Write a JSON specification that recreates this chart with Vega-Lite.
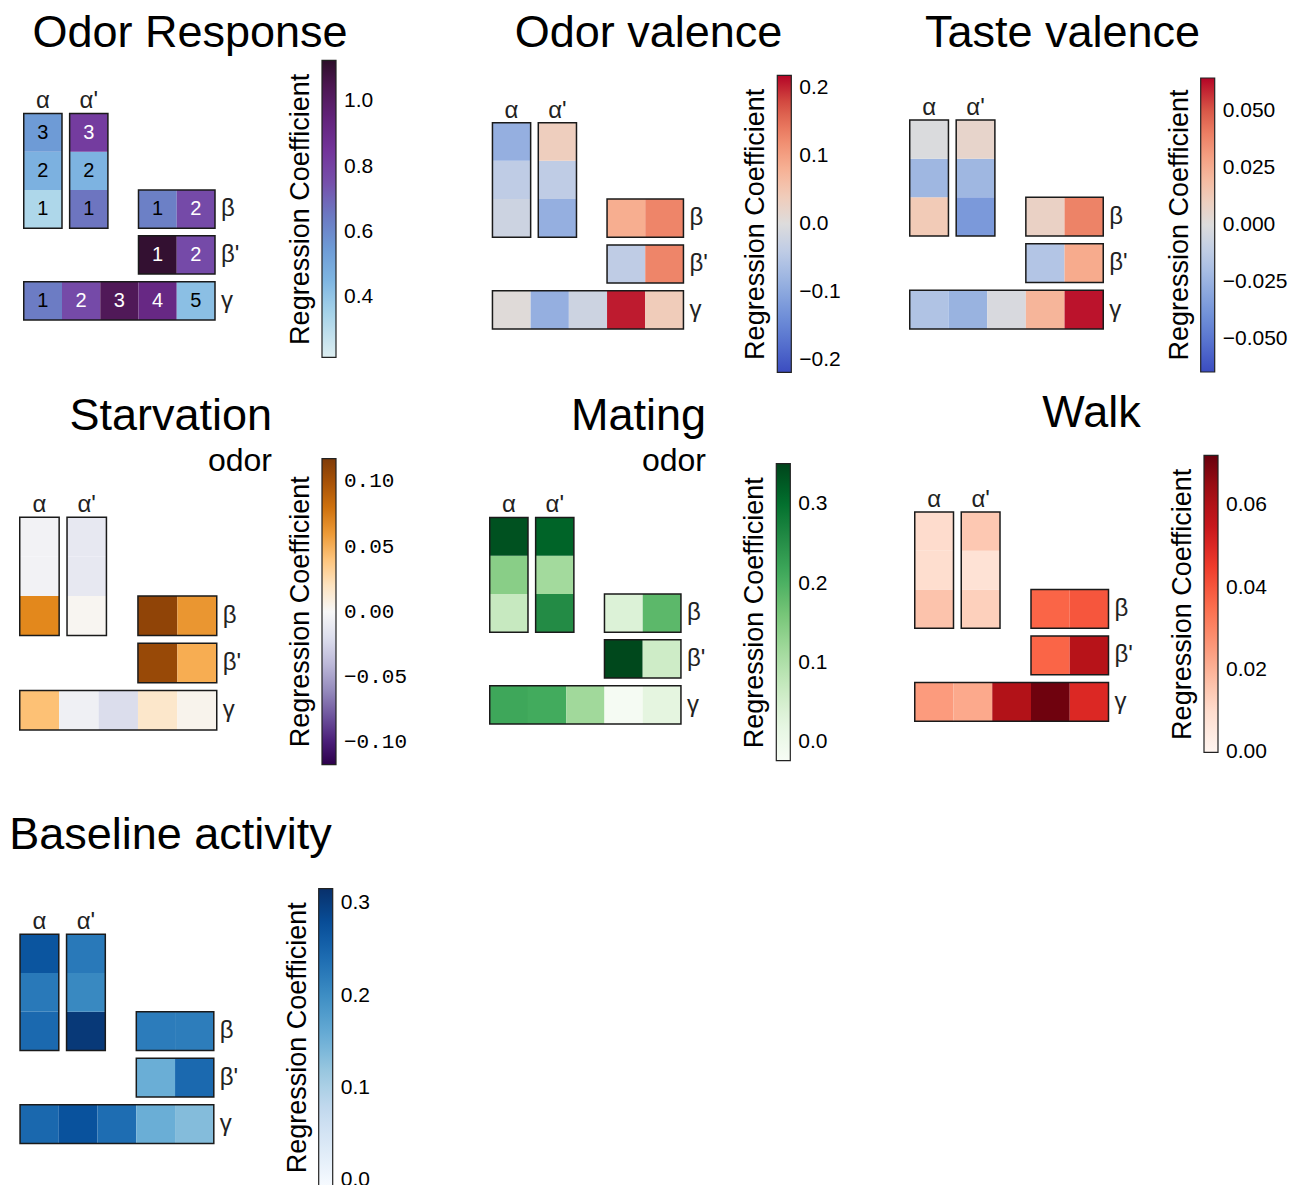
{
"$schema": "https://vega.github.io/schema/vega-lite/v6.json",
"background": "white",
"padding": {"left": 5, "top": 10, "right": 0, "bottom": 0},
"datasets": {
"layout": [
{"cell":"α1","n":1,"x0":0,"x1":1,"y0":2.4,"y1":3.4,"xc":0.5,"yc":2.9},
{"cell":"α2","n":2,"x0":0,"x1":1,"y0":3.4,"y1":4.4,"xc":0.5,"yc":3.9},
{"cell":"α3","n":3,"x0":0,"x1":1,"y0":4.4,"y1":5.4,"xc":0.5,"yc":4.9},
{"cell":"α'1","n":1,"x0":1.2,"x1":2.2,"y0":2.4,"y1":3.4,"xc":1.7,"yc":2.9},
{"cell":"α'2","n":2,"x0":1.2,"x1":2.2,"y0":3.4,"y1":4.4,"xc":1.7,"yc":3.9},
{"cell":"α'3","n":3,"x0":1.2,"x1":2.2,"y0":4.4,"y1":5.4,"xc":1.7,"yc":4.9},
{"cell":"β1","n":1,"x0":3,"x1":4,"y0":2.4,"y1":3.4,"xc":3.5,"yc":2.9},
{"cell":"β2","n":2,"x0":4,"x1":5,"y0":2.4,"y1":3.4,"xc":4.5,"yc":2.9},
{"cell":"β'1","n":1,"x0":3,"x1":4,"y0":1.2,"y1":2.2,"xc":3.5,"yc":1.7},
{"cell":"β'2","n":2,"x0":4,"x1":5,"y0":1.2,"y1":2.2,"xc":4.5,"yc":1.7},
{"cell":"γ1","n":1,"x0":0,"x1":1,"y0":0,"y1":1,"xc":0.5,"yc":0.5},
{"cell":"γ2","n":2,"x0":1,"x1":2,"y0":0,"y1":1,"xc":1.5,"yc":0.5},
{"cell":"γ3","n":3,"x0":2,"x1":3,"y0":0,"y1":1,"xc":2.5,"yc":0.5},
{"cell":"γ4","n":4,"x0":3,"x1":4,"y0":0,"y1":1,"xc":3.5,"yc":0.5},
{"cell":"γ5","n":5,"x0":4,"x1":5,"y0":0,"y1":1,"xc":4.5,"yc":0.5}
],
"lobes": [
{"lobe":"α","side":"top","x0":0,"x1":1,"y0":2.4,"y1":5.4,"xc":0.5,"yc":3.9},
{"lobe":"α'","side":"top","x0":1.2,"x1":2.2,"y0":2.4,"y1":5.4,"xc":1.7,"yc":3.9},
{"lobe":"β","side":"right","x0":3,"x1":5,"y0":2.4,"y1":3.4,"xc":4,"yc":2.9},
{"lobe":"β'","side":"right","x0":3,"x1":5,"y0":1.2,"y1":2.2,"xc":4,"yc":1.7},
{"lobe":"γ","side":"right","x0":0,"x1":5,"y0":0,"y1":1,"xc":2.5,"yc":0.5}
],
"vals": [
{"panel":"Odor Response","cell":"α1","v":0.33},{"panel":"Odor Response","cell":"α2","v":0.47},{"panel":"Odor Response","cell":"α3","v":0.55},
{"panel":"Odor Response","cell":"α'1","v":0.66},{"panel":"Odor Response","cell":"α'2","v":0.46},{"panel":"Odor Response","cell":"α'3","v":0.82},
{"panel":"Odor Response","cell":"β1","v":0.63},{"panel":"Odor Response","cell":"β2","v":0.77},
{"panel":"Odor Response","cell":"β'1","v":1.11},{"panel":"Odor Response","cell":"β'2","v":0.77},
{"panel":"Odor Response","cell":"γ1","v":0.64},{"panel":"Odor Response","cell":"γ2","v":0.77},{"panel":"Odor Response","cell":"γ3","v":1.03},{"panel":"Odor Response","cell":"γ4","v":0.92},{"panel":"Odor Response","cell":"γ5","v":0.42},

{"panel":"Odor valence","cell":"α1","v":-0.022},{"panel":"Odor valence","cell":"α2","v":-0.04},{"panel":"Odor valence","cell":"α3","v":-0.09},
{"panel":"Odor valence","cell":"α'1","v":-0.09},{"panel":"Odor valence","cell":"α'2","v":-0.04},{"panel":"Odor valence","cell":"α'3","v":0.035},
{"panel":"Odor valence","cell":"β1","v":0.085},{"panel":"Odor valence","cell":"β2","v":0.13},
{"panel":"Odor valence","cell":"β'1","v":-0.04},{"panel":"Odor valence","cell":"β'2","v":0.13},
{"panel":"Odor valence","cell":"γ1","v":0.005},{"panel":"Odor valence","cell":"γ2","v":-0.09},{"panel":"Odor valence","cell":"γ3","v":-0.022},{"panel":"Odor valence","cell":"γ4","v":0.205},{"panel":"Odor valence","cell":"γ5","v":0.04},

{"panel":"Taste valence","cell":"α1","v":0.013},{"panel":"Taste valence","cell":"α2","v":-0.023},{"panel":"Taste valence","cell":"α3","v":-0.001},
{"panel":"Taste valence","cell":"α'1","v":-0.036},{"panel":"Taste valence","cell":"α'2","v":-0.023},{"panel":"Taste valence","cell":"α'3","v":0.006},
{"panel":"Taste valence","cell":"β1","v":0.008},{"panel":"Taste valence","cell":"β2","v":0.039},
{"panel":"Taste valence","cell":"β'1","v":-0.016},{"panel":"Taste valence","cell":"β'2","v":0.026},
{"panel":"Taste valence","cell":"γ1","v":-0.017},{"panel":"Taste valence","cell":"γ2","v":-0.025},{"panel":"Taste valence","cell":"γ3","v":-0.002},{"panel":"Taste valence","cell":"γ4","v":0.022},{"panel":"Taste valence","cell":"γ5","v":0.062},

{"panel":"Starvation","cell":"α1","v":0.068},{"panel":"Starvation","cell":"α2","v":-0.004},{"panel":"Starvation","cell":"α3","v":-0.004},
{"panel":"Starvation","cell":"α'1","v":0.002},{"panel":"Starvation","cell":"α'2","v":-0.012},{"panel":"Starvation","cell":"α'3","v":-0.012},
{"panel":"Starvation","cell":"β1","v":0.11},{"panel":"Starvation","cell":"β2","v":0.062},
{"panel":"Starvation","cell":"β'1","v":0.106},{"panel":"Starvation","cell":"β'2","v":0.052},
{"panel":"Starvation","cell":"γ1","v":0.042},{"panel":"Starvation","cell":"γ2","v":-0.006},{"panel":"Starvation","cell":"γ3","v":-0.021},{"panel":"Starvation","cell":"γ4","v":0.016},{"panel":"Starvation","cell":"γ5","v":0.004},

{"panel":"Mating","cell":"α1","v":0.071},{"panel":"Mating","cell":"α2","v":0.142},{"panel":"Mating","cell":"α3","v":0.336},
{"panel":"Mating","cell":"α'1","v":0.258},{"panel":"Mating","cell":"α'2","v":0.115},{"panel":"Mating","cell":"α'3","v":0.314},
{"panel":"Mating","cell":"β1","v":0.037},{"panel":"Mating","cell":"β2","v":0.186},
{"panel":"Mating","cell":"β'1","v":0.347},{"panel":"Mating","cell":"β'2","v":0.06},
{"panel":"Mating","cell":"γ1","v":0.216},{"panel":"Mating","cell":"γ2","v":0.21},{"panel":"Mating","cell":"γ3","v":0.117},{"panel":"Mating","cell":"γ4","v":-0.019},{"panel":"Mating","cell":"γ5","v":0.024},

{"panel":"Walk","cell":"α1","v":0.016},{"panel":"Walk","cell":"α2","v":0.0095},{"panel":"Walk","cell":"α3","v":0.010},
{"panel":"Walk","cell":"α'1","v":0.013},{"panel":"Walk","cell":"α'2","v":0.008},{"panel":"Walk","cell":"α'3","v":0.015},
{"panel":"Walk","cell":"β1","v":0.037},{"panel":"Walk","cell":"β2","v":0.040},
{"panel":"Walk","cell":"β'1","v":0.037},{"panel":"Walk","cell":"β'2","v":0.059},
{"panel":"Walk","cell":"γ1","v":0.025},{"panel":"Walk","cell":"γ2","v":0.022},{"panel":"Walk","cell":"γ3","v":0.060},{"panel":"Walk","cell":"γ4","v":0.071},{"panel":"Walk","cell":"γ5","v":0.050},

{"panel":"Baseline activity","cell":"α1","v":0.245},{"panel":"Baseline activity","cell":"α2","v":0.225},{"panel":"Baseline activity","cell":"α3","v":0.271},
{"panel":"Baseline activity","cell":"α'1","v":0.305},{"panel":"Baseline activity","cell":"α'2","v":0.206},{"panel":"Baseline activity","cell":"α'3","v":0.225},
{"panel":"Baseline activity","cell":"β1","v":0.222},{"panel":"Baseline activity","cell":"β2","v":0.22},
{"panel":"Baseline activity","cell":"β'1","v":0.155},{"panel":"Baseline activity","cell":"β'2","v":0.245},
{"panel":"Baseline activity","cell":"γ1","v":0.247},{"panel":"Baseline activity","cell":"γ2","v":0.274},{"panel":"Baseline activity","cell":"γ3","v":0.24},{"panel":"Baseline activity","cell":"γ4","v":0.155},{"panel":"Baseline activity","cell":"γ5","v":0.135}
]
},
"columns": 3,
"bounds": "flush",
"spacing": {"row": 85, "column": 115},
"resolve": {"scale": {"color": "independent", "x": "independent", "y": "independent"}, "legend": {"color": "independent"}},
"concat": [
{
"width": 330, "height": 320,
"title": {"text": "Odor Response", "anchor": "middle", "dx": 20, "offset": -3.7},
"layer": [
{"data": {"name": "vals"},
 "transform": [{"filter": "datum.panel === 'Odor Response'"}, {"lookup": "cell", "from": {"data": {"name": "layout"}, "key": "cell", "fields": ["n","x0","x1","y0","y1","xc","yc"]}}],
 "mark": {"type": "rect"},
 "encoding": {
  "x": {"field": "x0", "type": "quantitative", "scale": {"domain": [-0.4902, 8.1373], "nice": false, "zero": false}, "axis": null},
  "x2": {"field": "x1"},
  "y": {"field": "y0", "type": "quantitative", "scale": {"domain": [-1.3608, 7.0052], "nice": false, "zero": false}, "axis": null},
  "y2": {"field": "y1"},
  "color": {"field": "v", "type": "quantitative",
   "scale": {"domain": [0.216,0.35,0.45,0.55,0.65,0.75,0.85,0.95,1.05,1.126], "range": ["#ddeef1","#a6d3e9","#7fb6e2","#6e9bd6","#6c79c2","#7650ab","#73349a","#62237a","#4b1650","#2c0e29"], "interpolate": "rgb"},
   "legend": {"title": "Regression Coefficient", "legendX": 282, "legendY": 8.3, "gradientLength": 297, "values": [0.4,0.6,0.8,1.0], "format": ".1f", "labelOffset": 8}}
 }},
{"data": {"name": "vals"},
 "transform": [{"filter": "datum.panel === 'Odor Response'"}, {"lookup": "cell", "from": {"data": {"name": "layout"}, "key": "cell", "fields": ["n","x0","x1","y0","y1","xc","yc"]}}],
 "mark": {"type": "text", "fontSize": 20, "baseline": "middle", "align": "center"},
 "encoding": {
  "x": {"field": "xc", "type": "quantitative", "scale": {"domain": [-0.4902, 8.1373], "nice": false, "zero": false}, "axis": null},
  "y": {"field": "yc", "type": "quantitative", "scale": {"domain": [-1.3608, 7.0052], "nice": false, "zero": false}, "axis": null},
  "text": {"field": "n", "type": "nominal"},
  "color": {"condition": {"test": "datum.v > 0.7", "value": "white"}, "value": "black"}
 }},
{"data": {"name": "lobes"}, "mark": {"type": "rect", "filled": false, "stroke": "#1a1a1a", "strokeWidth": 1.5},
 "encoding": {
  "x": {"field": "x0", "type": "quantitative", "scale": {"domain": [-0.4902, 8.1373], "nice": false, "zero": false}, "axis": null}, "x2": {"field": "x1"},
  "y": {"field": "y0", "type": "quantitative", "scale": {"domain": [-1.3608, 7.0052], "nice": false, "zero": false}, "axis": null}, "y2": {"field": "y1"}}},
{"data": {"name": "lobes"}, "transform": [{"filter": "datum.side === 'top'"}], "mark": {"type": "text", "fontSize": 24, "baseline": "alphabetic", "align": "center", "dy": -5, "color": "#222"},
 "encoding": {
  "x": {"field": "xc", "type": "quantitative", "scale": {"domain": [-0.4902, 8.1373], "nice": false, "zero": false}, "axis": null},
  "y": {"field": "y1", "type": "quantitative", "scale": {"domain": [-1.3608, 7.0052], "nice": false, "zero": false}, "axis": null},
  "text": {"field": "lobe"}}},
{"data": {"name": "lobes"}, "transform": [{"filter": "datum.side === 'right'"}], "mark": {"type": "text", "fontSize": 24, "baseline": "middle", "align": "left", "dx": 6, "color": "#222"},
 "encoding": {
  "x": {"field": "x1", "type": "quantitative", "scale": {"domain": [-0.4902, 8.1373], "nice": false, "zero": false}, "axis": null},
  "y": {"field": "yc", "type": "quantitative", "scale": {"domain": [-1.3608, 7.0052], "nice": false, "zero": false}, "axis": null},
  "text": {"field": "lobe"}}}
]
},
{
"width": 330, "height": 320,
"title": {"text": "Odor valence", "anchor": "middle", "dx": 33.5, "offset": -3.7},
"layer": [
{"data": {"name": "vals"},
 "transform": [{"filter": "datum.panel === 'Odor valence'"}, {"lookup": "cell", "from": {"data": {"name": "layout"}, "key": "cell", "fields": ["n","x0","x1","y0","y1","xc","yc"]}}],
 "mark": {"type": "rect"},
 "encoding": {
  "x": {"field": "x0", "type": "quantitative", "scale": {"domain": [-1.1113, 7.5275], "nice": false, "zero": false}, "axis": null},
  "x2": {"field": "x1"},
  "y": {"field": "y0", "type": "quantitative", "scale": {"domain": [-1.127, 7.25], "nice": false, "zero": false}, "axis": null},
  "y2": {"field": "y1"},
  "color": {"field": "v", "type": "quantitative",
   "scale": {"domain": [-0.218,-0.1744,-0.1308,-0.0872,-0.0436,0,0.0436,0.0872,0.1308,0.1744,0.218], "range": ["#3b4cc0","#5672cf","#7393d9","#97b1e0","#bccbe6","#dddcdc","#f2cbb7","#f7ac8e","#ee8468","#d65244","#b40426"], "interpolate": "rgb"},
   "legend": {"title": "Regression Coefficient", "legendX": 292.3, "legendY": 23.3, "gradientLength": 297, "values": [-0.2,-0.1,0,0.1,0.2], "format": ".1f", "labelOffset": 8}}
 }},
{"data": {"name": "lobes"}, "mark": {"type": "rect", "filled": false, "stroke": "#1a1a1a", "strokeWidth": 1.5},
 "encoding": {
  "x": {"field": "x0", "type": "quantitative", "scale": {"domain": [-1.1113, 7.5275], "nice": false, "zero": false}, "axis": null}, "x2": {"field": "x1"},
  "y": {"field": "y0", "type": "quantitative", "scale": {"domain": [-1.127, 7.25], "nice": false, "zero": false}, "axis": null}, "y2": {"field": "y1"}}},
{"data": {"name": "lobes"}, "transform": [{"filter": "datum.side === 'top'"}], "mark": {"type": "text", "fontSize": 24, "baseline": "alphabetic", "align": "center", "dy": -5, "color": "#222"},
 "encoding": {
  "x": {"field": "xc", "type": "quantitative", "scale": {"domain": [-1.1113, 7.5275], "nice": false, "zero": false}, "axis": null},
  "y": {"field": "y1", "type": "quantitative", "scale": {"domain": [-1.127, 7.25], "nice": false, "zero": false}, "axis": null},
  "text": {"field": "lobe"}}},
{"data": {"name": "lobes"}, "transform": [{"filter": "datum.side === 'right'"}], "mark": {"type": "text", "fontSize": 24, "baseline": "middle", "align": "left", "dx": 6, "color": "#222"},
 "encoding": {
  "x": {"field": "x1", "type": "quantitative", "scale": {"domain": [-1.1113, 7.5275], "nice": false, "zero": false}, "axis": null},
  "y": {"field": "yc", "type": "quantitative", "scale": {"domain": [-1.127, 7.25], "nice": false, "zero": false}, "axis": null},
  "text": {"field": "lobe"}}}
]
},
{
"width": 330, "height": 320,
"title": {"text": "Taste valence", "anchor": "middle", "dx": 2.5, "offset": -3.7},
"layer": [
{"data": {"name": "vals"},
 "transform": [{"filter": "datum.panel === 'Taste valence'"}, {"lookup": "cell", "from": {"data": {"name": "layout"}, "key": "cell", "fields": ["n","x0","x1","y0","y1","xc","yc"]}}],
 "mark": {"type": "rect"},
 "encoding": {
  "x": {"field": "x0", "type": "quantitative", "scale": {"domain": [-0.3811, 8.146], "nice": false, "zero": false}, "axis": null},
  "x2": {"field": "x1"},
  "y": {"field": "y0", "type": "quantitative", "scale": {"domain": [-1.1124, 7.1563], "nice": false, "zero": false}, "axis": null},
  "y2": {"field": "y1"},
  "color": {"field": "v", "type": "quantitative",
   "scale": {"domain": [-0.0645,-0.0516,-0.0387,-0.0258,-0.0129,0,0.0129,0.0258,0.0387,0.0516,0.0645], "range": ["#3b4cc0","#5672cf","#7393d9","#97b1e0","#bccbe6","#dddcdc","#f2cbb7","#f7ac8e","#ee8468","#d65244","#b40426"], "interpolate": "rgb"},
   "legend": {"title": "Regression Coefficient", "legendX": 270.7, "legendY": 26, "gradientLength": 294, "values": [-0.05,-0.025,0,0.025,0.05], "format": ".3f", "labelOffset": 8}}
 }},
{"data": {"name": "lobes"}, "mark": {"type": "rect", "filled": false, "stroke": "#1a1a1a", "strokeWidth": 1.5},
 "encoding": {
  "x": {"field": "x0", "type": "quantitative", "scale": {"domain": [-0.3811, 8.146], "nice": false, "zero": false}, "axis": null}, "x2": {"field": "x1"},
  "y": {"field": "y0", "type": "quantitative", "scale": {"domain": [-1.1124, 7.1563], "nice": false, "zero": false}, "axis": null}, "y2": {"field": "y1"}}},
{"data": {"name": "lobes"}, "transform": [{"filter": "datum.side === 'top'"}], "mark": {"type": "text", "fontSize": 24, "baseline": "alphabetic", "align": "center", "dy": -5, "color": "#222"},
 "encoding": {
  "x": {"field": "xc", "type": "quantitative", "scale": {"domain": [-0.3811, 8.146], "nice": false, "zero": false}, "axis": null},
  "y": {"field": "y1", "type": "quantitative", "scale": {"domain": [-1.1124, 7.1563], "nice": false, "zero": false}, "axis": null},
  "text": {"field": "lobe"}}},
{"data": {"name": "lobes"}, "transform": [{"filter": "datum.side === 'right'"}], "mark": {"type": "text", "fontSize": 24, "baseline": "middle", "align": "left", "dx": 6, "color": "#222"},
 "encoding": {
  "x": {"field": "x1", "type": "quantitative", "scale": {"domain": [-0.3811, 8.146], "nice": false, "zero": false}, "axis": null},
  "y": {"field": "yc", "type": "quantitative", "scale": {"domain": [-1.1124, 7.1563], "nice": false, "zero": false}, "axis": null},
  "text": {"field": "lobe"}}}
]
},
{
"width": 330, "height": 320,
"title": {"text": "Starvation", "subtitle": "odor", "anchor": "end", "dx": -63, "offset": -20},
"layer": [
{"data": {"name": "vals"},
 "transform": [{"filter": "datum.panel === 'Starvation'"}, {"lookup": "cell", "from": {"data": {"name": "layout"}, "key": "cell", "fields": ["n","x0","x1","y0","y1","xc","yc"]}}],
 "mark": {"type": "rect"},
 "encoding": {
  "x": {"field": "x0", "type": "quantitative", "scale": {"domain": [-0.3744, 8.0013], "nice": false, "zero": false}, "axis": null},
  "x2": {"field": "x1"},
  "y": {"field": "y0", "type": "quantitative", "scale": {"domain": [-1.1942, 6.9277], "nice": false, "zero": false}, "axis": null},
  "y2": {"field": "y1"},
  "color": {"field": "v", "type": "quantitative",
   "scale": {"domain": [-0.1175,-0.094,-0.0705,-0.047,-0.0235,0,0.0235,0.047,0.0705,0.094,0.1175], "range": ["#2d004b","#542788","#8073ac","#b2abd2","#d8daeb","#f7f7f7","#fee0b6","#fdb863","#e08214","#b35806","#7f3b08"], "interpolate": "rgb"},
   "legend": {"title": "Regression Coefficient", "legendX": 282, "legendY": 1.7, "gradientLength": 306, "values": [-0.1,-0.05,0,0.05,0.1], "format": ".2f", "labelFont": "Liberation Mono", "labelFontSize": 21, "labelOffset": 8}}
 }},
{"data": {"name": "lobes"}, "mark": {"type": "rect", "filled": false, "stroke": "#1a1a1a", "strokeWidth": 1.5},
 "encoding": {
  "x": {"field": "x0", "type": "quantitative", "scale": {"domain": [-0.3744, 8.0013], "nice": false, "zero": false}, "axis": null}, "x2": {"field": "x1"},
  "y": {"field": "y0", "type": "quantitative", "scale": {"domain": [-1.1942, 6.9277], "nice": false, "zero": false}, "axis": null}, "y2": {"field": "y1"}}},
{"data": {"name": "lobes"}, "transform": [{"filter": "datum.side === 'top'"}], "mark": {"type": "text", "fontSize": 24, "baseline": "alphabetic", "align": "center", "dy": -5, "color": "#222"},
 "encoding": {
  "x": {"field": "xc", "type": "quantitative", "scale": {"domain": [-0.3744, 8.0013], "nice": false, "zero": false}, "axis": null},
  "y": {"field": "y1", "type": "quantitative", "scale": {"domain": [-1.1942, 6.9277], "nice": false, "zero": false}, "axis": null},
  "text": {"field": "lobe"}}},
{"data": {"name": "lobes"}, "transform": [{"filter": "datum.side === 'right'"}], "mark": {"type": "text", "fontSize": 24, "baseline": "middle", "align": "left", "dx": 6, "color": "#222"},
 "encoding": {
  "x": {"field": "x1", "type": "quantitative", "scale": {"domain": [-0.3744, 8.0013], "nice": false, "zero": false}, "axis": null},
  "y": {"field": "yc", "type": "quantitative", "scale": {"domain": [-1.1942, 6.9277], "nice": false, "zero": false}, "axis": null},
  "text": {"field": "lobe"}}}
]
},
{
"width": 330, "height": 320,
"title": {"text": "Mating", "subtitle": "odor", "anchor": "end", "dx": -74, "offset": -20},
"layer": [
{"data": {"name": "vals"},
 "transform": [{"filter": "datum.panel === 'Mating'"}, {"lookup": "cell", "from": {"data": {"name": "layout"}, "key": "cell", "fields": ["n","x0","x1","y0","y1","xc","yc"]}}],
 "mark": {"type": "rect"},
 "encoding": {
  "x": {"field": "x0", "type": "quantitative", "scale": {"domain": [-1.0395, 7.5902], "nice": false, "zero": false}, "axis": null},
  "x2": {"field": "x1"},
  "y": {"field": "y0", "type": "quantitative", "scale": {"domain": [-1.3873, 6.9809], "nice": false, "zero": false}, "axis": null},
  "y2": {"field": "y1"},
  "color": {"field": "v", "type": "quantitative",
   "scale": {"domain": [-0.023,0.02375,0.0705,0.11725,0.164,0.21075,0.2575,0.30425,0.351], "range": ["#f7fcf5","#e5f5e0","#c7e9c0","#a1d99b","#74c476","#41ab5d","#238b45","#006d2c","#00441b"], "interpolate": "rgb"},
   "legend": {"title": "Regression Coefficient", "legendX": 291.3, "legendY": 6.7, "gradientLength": 297, "values": [0,0.1,0.2,0.3], "format": ".1f", "labelOffset": 8}}
 }},
{"data": {"name": "lobes"}, "mark": {"type": "rect", "filled": false, "stroke": "#1a1a1a", "strokeWidth": 1.5},
 "encoding": {
  "x": {"field": "x0", "type": "quantitative", "scale": {"domain": [-1.0395, 7.5902], "nice": false, "zero": false}, "axis": null}, "x2": {"field": "x1"},
  "y": {"field": "y0", "type": "quantitative", "scale": {"domain": [-1.3873, 6.9809], "nice": false, "zero": false}, "axis": null}, "y2": {"field": "y1"}}},
{"data": {"name": "lobes"}, "transform": [{"filter": "datum.side === 'top'"}], "mark": {"type": "text", "fontSize": 24, "baseline": "alphabetic", "align": "center", "dy": -5, "color": "#222"},
 "encoding": {
  "x": {"field": "xc", "type": "quantitative", "scale": {"domain": [-1.0395, 7.5902], "nice": false, "zero": false}, "axis": null},
  "y": {"field": "y1", "type": "quantitative", "scale": {"domain": [-1.3873, 6.9809], "nice": false, "zero": false}, "axis": null},
  "text": {"field": "lobe"}}},
{"data": {"name": "lobes"}, "transform": [{"filter": "datum.side === 'right'"}], "mark": {"type": "text", "fontSize": 24, "baseline": "middle", "align": "left", "dx": 6, "color": "#222"},
 "encoding": {
  "x": {"field": "x1", "type": "quantitative", "scale": {"domain": [-1.0395, 7.5902], "nice": false, "zero": false}, "axis": null},
  "y": {"field": "yc", "type": "quantitative", "scale": {"domain": [-1.3873, 6.9809], "nice": false, "zero": false}, "axis": null},
  "text": {"field": "lobe"}}}
]
},
{
"width": 330, "height": 320,
"title": {"text": "Walk", "anchor": "middle", "dx": 31.5, "offset": 19.3},
"layer": [
{"data": {"name": "vals"},
 "transform": [{"filter": "datum.panel === 'Walk'"}, {"lookup": "cell", "from": {"data": {"name": "layout"}, "key": "cell", "fields": ["n","x0","x1","y0","y1","xc","yc"]}}],
 "mark": {"type": "rect"},
 "encoding": {
  "x": {"field": "x0", "type": "quantitative", "scale": {"domain": [-0.5097, 8.0065], "nice": false, "zero": false}, "axis": null},
  "x2": {"field": "x1"},
  "y": {"field": "y0", "type": "quantitative", "scale": {"domain": [-1.4387, 6.8194], "nice": false, "zero": false}, "axis": null},
  "y2": {"field": "y1"},
  "color": {"field": "v", "type": "quantitative",
   "scale": {"domain": [-0.0001,0.009025,0.01805,0.027075,0.0361,0.045125,0.05415,0.063175,0.0722], "range": ["#fff5f0","#fee0d2","#fcbba1","#fc9272","#fb6a4a","#ef3b2c","#cb181d","#a50f15","#67000d"], "interpolate": "rgb"},
   "legend": {"title": "Regression Coefficient", "legendX": 274, "legendY": -1.7, "gradientLength": 297, "values": [0,0.02,0.04,0.06], "format": ".2f", "labelOffset": 8}}
 }},
{"data": {"name": "lobes"}, "mark": {"type": "rect", "filled": false, "stroke": "#1a1a1a", "strokeWidth": 1.5},
 "encoding": {
  "x": {"field": "x0", "type": "quantitative", "scale": {"domain": [-0.5097, 8.0065], "nice": false, "zero": false}, "axis": null}, "x2": {"field": "x1"},
  "y": {"field": "y0", "type": "quantitative", "scale": {"domain": [-1.4387, 6.8194], "nice": false, "zero": false}, "axis": null}, "y2": {"field": "y1"}}},
{"data": {"name": "lobes"}, "transform": [{"filter": "datum.side === 'top'"}], "mark": {"type": "text", "fontSize": 24, "baseline": "alphabetic", "align": "center", "dy": -5, "color": "#222"},
 "encoding": {
  "x": {"field": "xc", "type": "quantitative", "scale": {"domain": [-0.5097, 8.0065], "nice": false, "zero": false}, "axis": null},
  "y": {"field": "y1", "type": "quantitative", "scale": {"domain": [-1.4387, 6.8194], "nice": false, "zero": false}, "axis": null},
  "text": {"field": "lobe"}}},
{"data": {"name": "lobes"}, "transform": [{"filter": "datum.side === 'right'"}], "mark": {"type": "text", "fontSize": 24, "baseline": "middle", "align": "left", "dx": 6, "color": "#222"},
 "encoding": {
  "x": {"field": "x1", "type": "quantitative", "scale": {"domain": [-0.5097, 8.0065], "nice": false, "zero": false}, "axis": null},
  "y": {"field": "yc", "type": "quantitative", "scale": {"domain": [-1.4387, 6.8194], "nice": false, "zero": false}, "axis": null},
  "text": {"field": "lobe"}}}
]
},
{
"width": 330, "height": 320,
"title": {"text": "Baseline activity", "anchor": "middle", "dx": 0.5, "offset": 4.3},
"layer": [
{"data": {"name": "vals"},
 "transform": [{"filter": "datum.panel === 'Baseline activity'"}, {"lookup": "cell", "from": {"data": {"name": "layout"}, "key": "cell", "fields": ["n","x0","x1","y0","y1","xc","yc"]}}],
 "mark": {"type": "rect"},
 "encoding": {
  "x": {"field": "x0", "type": "quantitative", "scale": {"domain": [-0.3884, 8.1277], "nice": false, "zero": false}, "axis": null},
  "x2": {"field": "x1"},
  "y": {"field": "y0", "type": "quantitative", "scale": {"domain": [-0.9923, 7.2658], "nice": false, "zero": false}, "axis": null},
  "y2": {"field": "y1"},
  "color": {"field": "v", "type": "quantitative",
   "scale": {"domain": [-0.007,0.033375,0.07375,0.114125,0.1545,0.194875,0.23525,0.275625,0.316], "range": ["#f7fbff","#deebf7","#c6dbef","#9ecae1","#6baed6","#4292c6","#2171b5","#08519c","#08306b"], "interpolate": "rgb"},
   "legend": {"title": "Regression Coefficient", "legendX": 278.7, "legendY": 26.7, "gradientLength": 298, "values": [0,0.1,0.2,0.3], "format": ".1f", "labelOffset": 8}}
 }},
{"data": {"name": "lobes"}, "mark": {"type": "rect", "filled": false, "stroke": "#1a1a1a", "strokeWidth": 1.5},
 "encoding": {
  "x": {"field": "x0", "type": "quantitative", "scale": {"domain": [-0.3884, 8.1277], "nice": false, "zero": false}, "axis": null}, "x2": {"field": "x1"},
  "y": {"field": "y0", "type": "quantitative", "scale": {"domain": [-0.9923, 7.2658], "nice": false, "zero": false}, "axis": null}, "y2": {"field": "y1"}}},
{"data": {"name": "lobes"}, "transform": [{"filter": "datum.side === 'top'"}], "mark": {"type": "text", "fontSize": 24, "baseline": "alphabetic", "align": "center", "dy": -5, "color": "#222"},
 "encoding": {
  "x": {"field": "xc", "type": "quantitative", "scale": {"domain": [-0.3884, 8.1277], "nice": false, "zero": false}, "axis": null},
  "y": {"field": "y1", "type": "quantitative", "scale": {"domain": [-0.9923, 7.2658], "nice": false, "zero": false}, "axis": null},
  "text": {"field": "lobe"}}},
{"data": {"name": "lobes"}, "transform": [{"filter": "datum.side === 'right'"}], "mark": {"type": "text", "fontSize": 24, "baseline": "middle", "align": "left", "dx": 6, "color": "#222"},
 "encoding": {
  "x": {"field": "x1", "type": "quantitative", "scale": {"domain": [-0.3884, 8.1277], "nice": false, "zero": false}, "axis": null},
  "y": {"field": "yc", "type": "quantitative", "scale": {"domain": [-0.9923, 7.2658], "nice": false, "zero": false}, "axis": null},
  "text": {"field": "lobe"}}}
]
}
],
"config": {
 "view": {"stroke": null},
 "font": "Liberation Sans",
 "text": {"font": "Liberation Sans"},
 "title": {"font": "Liberation Sans", "fontSize": 45, "fontWeight": "normal", "color": "black", "frame": "group", "subtitleFont": "Liberation Sans", "subtitleFontSize": 32, "subtitleColor": "black", "subtitlePadding": 7},
 "legend": {"orient": "none", "direction": "vertical", "gradientThickness": 14, "gradientStrokeColor": "#222", "gradientStrokeWidth": 1.2,
  "labelFont": "Liberation Sans", "labelFontSize": 21, "labelColor": "black", "labelOffset": 8, "labelOverlap": false, "labelBaseline": "middle",
  "titleFont": "Liberation Sans", "titleFontSize": 27, "titleFontWeight": "normal", "titleColor": "black", "titleOrient": "left", "titleAnchor": "middle", "titlePadding": 6, "titleLimit": 400}
}
}
